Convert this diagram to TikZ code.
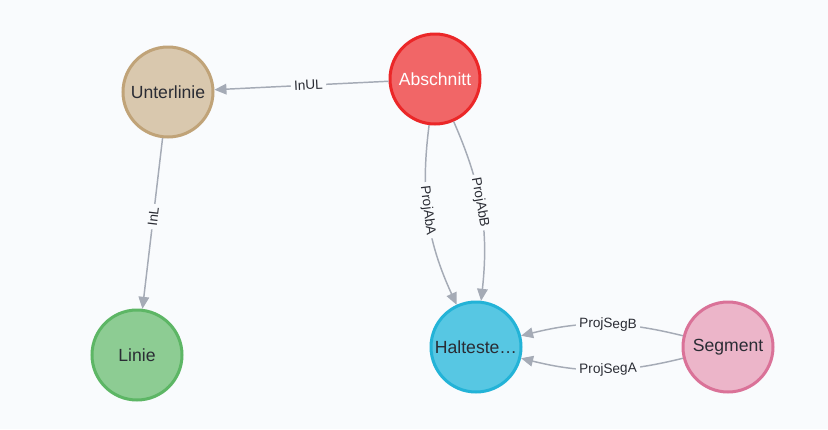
\documentclass[tikz,border=0pt]{standalone}
\usepackage{fontspec}
\setmainfont{Liberation Sans}
\usetikzlibrary{arrows.meta}

\definecolor{bgcol}{HTML}{F9FBFD}
\definecolor{relcol}{HTML}{A5ABB6}
\definecolor{txtcol}{HTML}{2A2C34}
\definecolor{abfill}{HTML}{F16667}
\definecolor{abline}{HTML}{EB2728}
\definecolor{ulfill}{HTML}{D9C8AE}
\definecolor{ulline}{HTML}{C0A378}
\definecolor{lifill}{HTML}{8DCC93}
\definecolor{liline}{HTML}{5DB665}
\definecolor{hsfill}{HTML}{57C7E3}
\definecolor{hsline}{HTML}{23B3D7}
\definecolor{sgfill}{HTML}{ECB5C9}
\definecolor{sgline}{HTML}{DA7298}

\begin{document}
\begin{tikzpicture}[x=0.75pt,y=-0.75pt,
  ent/.style={circle,minimum size=67.5pt,inner sep=0pt,line width=2.25pt,
    font=\fontsize{13.2}{15}\selectfont,text=txtcol},
  rel/.style={draw=relcol,line width=1.1pt,-{Triangle[length=9pt,width=8pt]}},
  lbl/.style={sloped,pos=.46,fill=bgcol,inner sep=2.5pt,
    font=\fontsize{10.2}{12}\selectfont,text=txtcol}]
  \fill[bgcol] (0,0) rectangle (828,429);
  \useasboundingbox (0,0) rectangle (828,429);

  \node[ent,fill=abfill,draw=abline,text=white] (absch) at (435,79) {Abschnitt};
  \node[ent,fill=ulfill,draw=ulline] (ulinie) at (168,92) {Unterlinie};
  \node[ent,fill=lifill,draw=liline] (linie) at (137,355) {Linie};
  \node[ent,fill=hsfill,draw=hsline] (halt) at (476,347) {Halteste…};
  \node[ent,fill=sgfill,draw=sgline] (seg) at (728,347) {Segment};

  \draw[rel] (absch) -- node[lbl] {InUL} (ulinie);
  \draw[rel] (ulinie) -- node[lbl] {InL} (linie);
  \draw[rel] (absch) to[bend right=16] node[lbl] {ProjAbA} (halt);
  \draw[rel] (absch) to[bend left=15] node[lbl] {ProjAbB} (halt);
  \draw[rel] (seg) to[bend right=14] node[lbl] {ProjSegB} (halt);
  \draw[rel] (seg) to[bend left=14] node[lbl] {ProjSegA} (halt);
\end{tikzpicture}
\end{document}
